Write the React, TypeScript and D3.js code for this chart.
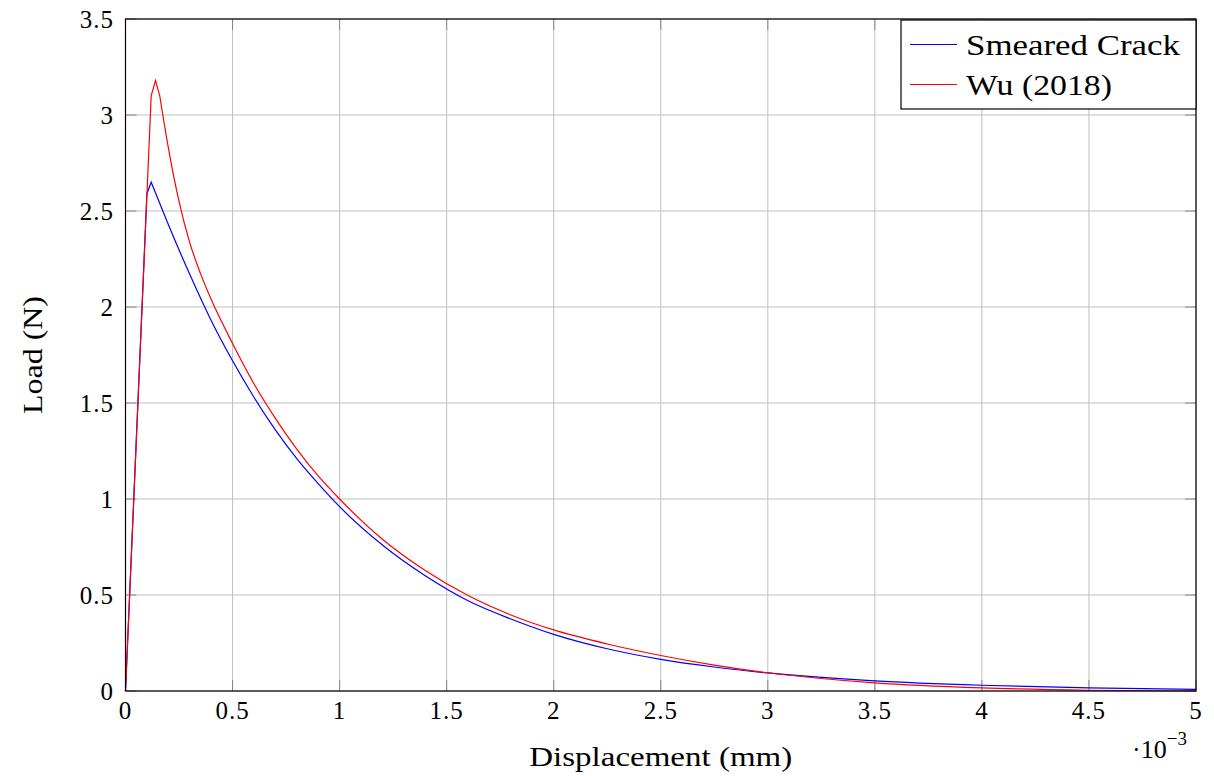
import React from "react";
import * as d3 from "d3";

const blueX = [0, 0.1, 0.12, 0.2, 0.3, 0.4, 0.5, 0.6, 0.7, 0.8, 0.9, 1.0, 1.2, 1.4, 1.6, 1.8, 2.0, 2.25, 2.5, 2.75, 3.0, 3.5, 4.0, 4.5, 5.0];
const blueY = [0, 2.59, 2.65, 2.43, 2.17, 1.93, 1.72, 1.53, 1.36, 1.21, 1.08, 0.96, 0.76, 0.6, 0.47, 0.375, 0.295, 0.22, 0.165, 0.125, 0.094, 0.053, 0.03, 0.016, 0.008];
const bluePeak = 2;

const redX = [0, 0.12, 0.14, 0.16, 0.2, 0.25, 0.3, 0.35, 0.4, 0.5, 0.6, 0.7, 0.8, 0.9, 1.0, 1.2, 1.4, 1.6, 1.8, 2.0, 2.25, 2.5, 2.75, 3.0, 3.25, 3.5, 4.0, 4.5, 5.0];
const redY = [0, 3.1, 3.18, 3.1, 2.83, 2.55, 2.335, 2.175, 2.04, 1.81, 1.6, 1.42, 1.26, 1.12, 1.0, 0.79, 0.627, 0.497, 0.396, 0.318, 0.245, 0.185, 0.135, 0.095, 0.065, 0.042, 0.016, 0.004, 0.0];
const redPeak = 3;

const xTicks = [0, 0.5, 1, 1.5, 2, 2.5, 3, 3.5, 4, 4.5, 5];
const yTicks = [0, 0.5, 1, 1.5, 2, 2.5, 3, 3.5];
const seriesNames = ["Smeared Crack", "Wu (2018)"];
const seriesColors = ["#0000ff", "#ff0000"];

const W = 1214, H = 776;
const L = 125.5, R = 1196, T = 19, B = 691;
const FONT = "'Liberation Serif', 'Times New Roman', serif";

export default function App() {
  const x = d3.scaleLinear().domain([0, 5]).range([L, R]);
  const y = d3.scaleLinear().domain([0, 3.5]).range([B, T]);
  const lin = d3.line<[number, number]>().x(d => x(d[0])).y(d => y(d[1]));
  const smooth = d3.line<[number, number]>().x(d => x(d[0])).y(d => y(d[1])).curve(d3.curveMonotoneX);
  const blue = blueX.map((v, i) => [v, blueY[i]] as [number, number]);
  const red = redX.map((v, i) => [v, redY[i]] as [number, number]);
  const pathOf = (pts: [number, number][], peak: number) =>
    (lin(pts.slice(0, peak + 1)) || "") + (smooth(pts.slice(peak)) || "").replace(/^M/, "L");
  const fmt = (v: number) => String(v);
  return (
    <svg width={W} height={H} style={{ position: "absolute", left: 0, top: 0, background: "#fff" }} fontFamily={FONT}>
      <rect x={0} y={0} width={W} height={H} fill="#fff" />
      {xTicks.map(t => (
        <line key={"gx" + t} x1={x(t)} x2={x(t)} y1={T} y2={B} stroke="#c0c0c0" strokeWidth={1} />
      ))}
      {yTicks.map(t => (
        <line key={"gy" + t} x1={L} x2={R} y1={y(t)} y2={y(t)} stroke="#c0c0c0" strokeWidth={1} />
      ))}
      {xTicks.map(t => (
        <g key={"tx" + t}>
          <line x1={x(t)} x2={x(t)} y1={B} y2={B - 11} stroke="#888" strokeWidth={1} />
          <line x1={x(t)} x2={x(t)} y1={T} y2={T + 11} stroke="#888" strokeWidth={1} />
        </g>
      ))}
      {yTicks.map(t => (
        <g key={"ty" + t}>
          <line x1={L} x2={L + 11} y1={y(t)} y2={y(t)} stroke="#888" strokeWidth={1} />
          <line x1={R} x2={R - 11} y1={y(t)} y2={y(t)} stroke="#888" strokeWidth={1} />
        </g>
      ))}
      <path d={pathOf(blue, bluePeak)} fill="none" stroke={seriesColors[0]} strokeWidth={1.2} strokeLinejoin="miter" />
      <path d={pathOf(red, redPeak)} fill="none" stroke={seriesColors[1]} strokeWidth={1.2} strokeLinejoin="miter" />
      <rect x={L} y={T} width={R - L} height={B - T} fill="none" stroke="#000" strokeWidth={1.2} />
      {xTicks.map(t => (
        <text key={"lx" + t} x={x(t)} y={B + 28} textAnchor="middle" fontSize={25} letterSpacing={1} fill="#000">{fmt(t)}</text>
      ))}
      {yTicks.map(t => (
        <text key={"ly" + t} x={L - 11.5} y={y(t) + 9} textAnchor="end" fontSize={25} letterSpacing={1} fill="#000">{fmt(t)}</text>
      ))}
      <text x={1132} y={758} fontSize={26} fill="#000">·10<tspan dy={-13} fontSize={19}>−3</tspan></text>
      <text x={(L + R) / 2} y={766} textAnchor="middle" fontSize={27} fill="#000" textLength={263} lengthAdjust="spacingAndGlyphs">Displacement (mm)</text>
      <text transform={`translate(42, ${(T + B) / 2}) rotate(-90)`} textAnchor="middle" fontSize={27} fill="#000" textLength={118} lengthAdjust="spacingAndGlyphs">Load (N)</text>
      <rect x={901} y={20} width={295} height={89} fill="#fff" stroke="#000" strokeWidth={1.2} />
      {seriesNames.map((n, i) => (
        <g key={n}>
          <line x1={910} x2={957} y1={44.5 + i * 40} y2={44.5 + i * 40} stroke={seriesColors[i]} strokeWidth={1.2} />
          <text x={966} y={54.5 + i * 40} fontSize={30} fill="#000" textLength={i === 0 ? 214 : 146} lengthAdjust="spacingAndGlyphs">{n}</text>
        </g>
      ))}
    </svg>
  );
}
